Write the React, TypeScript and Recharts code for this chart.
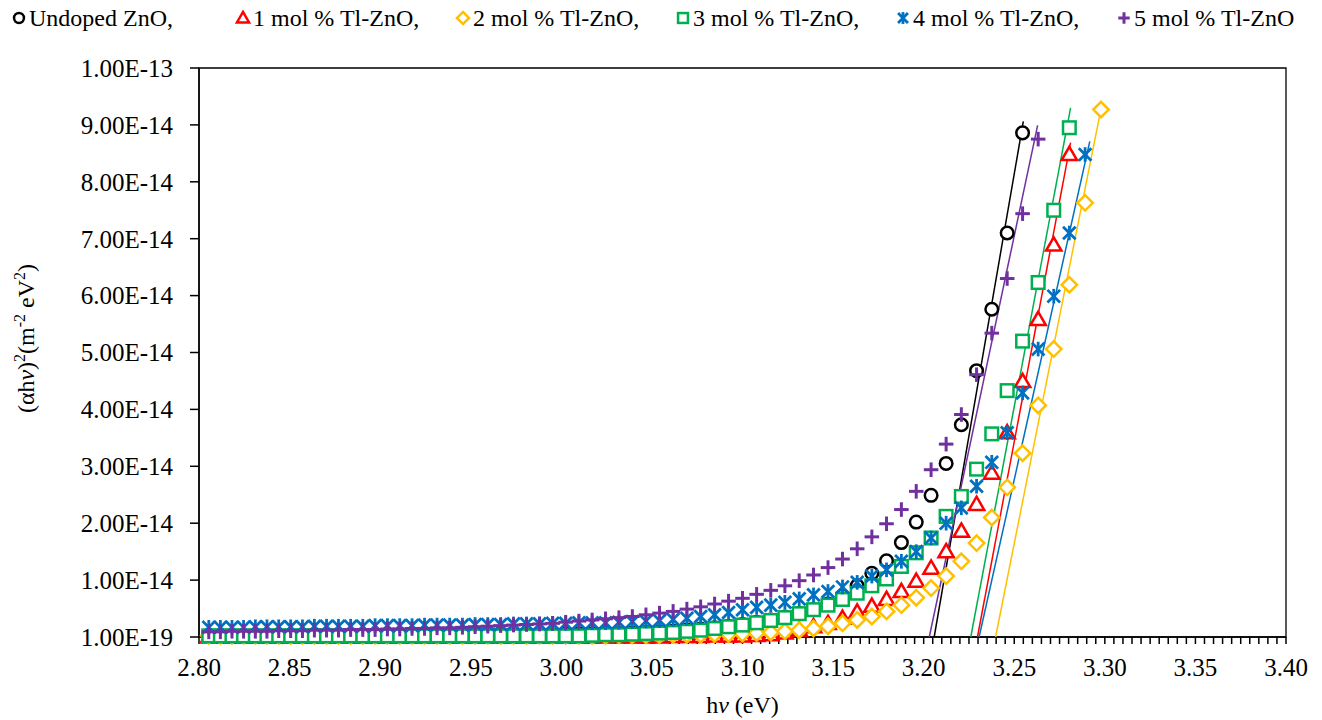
import React from "react";
import { ScatterChart, Scatter, XAxis, YAxis, ReferenceArea, Label } from "recharts";

// photon energy (eV) of every measured point, low to high
const hv = [
  2.8054, 2.8118, 2.8182, 2.8246, 2.8311, 2.8375, 2.844, 2.8506, 2.8571, 2.8637,
  2.8704, 2.877, 2.8837, 2.8904, 2.8972, 2.904, 2.9108, 2.9176, 2.9245, 2.9314,
  2.9384, 2.9454, 2.9524, 2.9594, 2.9665, 2.9736, 2.9808, 2.988, 2.9952, 3.0024,
  3.0097, 3.017, 3.0244, 3.0318, 3.0392, 3.0467, 3.0542, 3.0617, 3.0693, 3.0769,
  3.0846, 3.0923, 3.1, 3.1078, 3.1156, 3.1234, 3.1313, 3.1392, 3.1472, 3.1552,
  3.1633, 3.1714, 3.1795, 3.1877, 3.1959, 3.2041, 3.2124, 3.2208, 3.2292, 3.2376,
  3.2461, 3.2546, 3.2632, 3.2718, 3.2804, 3.2891, 3.2979,
];

// (αhν)² in units of 1e-14
const undoped = [
  0.03, 0.03, 0.03, 0.03, 0.03, 0.03, 0.03, 0.03, 0.03, 0.03,
  0.03, 0.03, 0.03, 0.03, 0.03, 0.03, 0.03, 0.03, 0.03, 0.03,
  0.04, 0.04, 0.04, 0.04, 0.04, 0.04, 0.04, 0.04, 0.04, 0.05,
  0.05, 0.05, 0.06, 0.06, 0.07, 0.08, 0.09, 0.1, 0.12, 0.14,
  0.16, 0.19, 0.22, 0.26, 0.3, 0.35, 0.41, 0.48, 0.58, 0.72,
  0.9, 1.12, 1.34, 1.66, 2.02, 2.49, 3.05, 3.73, 4.68, 5.76,
  7.1, 8.86,
];
const tl1 = [
  0, 0, 0, 0, 0, 0, 0, 0, 0, 0,
  0, 0, 0, 0, 0, 0, 0, 0, 0, 0,
  0, 0, 0, 0, 0, 0, 0, 0, 0, 0,
  0, 0, 0, 0, 0, 0, 0, 0.01, 0.01, 0.01,
  0.02, 0.02, 0.02, 0.03, 0.04, 0.07, 0.12, 0.18, 0.24, 0.33,
  0.44, 0.54, 0.66, 0.8, 0.98, 1.21, 1.5, 1.86, 2.33, 2.88,
  3.59, 4.49, 5.58, 6.89, 8.48,
];
const tl2 = [
  0.02, 0.02, 0.02, 0.02, 0.02, 0.02, 0.02, 0.02, 0.02, 0.02,
  0.02, 0.02, 0.02, 0.02, 0.02, 0.02, 0.02, 0.02, 0.02, 0.02,
  0.02, 0.02, 0.02, 0.02, 0.02, 0.02, 0.02, 0.02, 0.02, 0.02,
  0.02, 0.02, 0.02, 0.03, 0.03, 0.03, 0.03, 0.04, 0.04, 0.04,
  0.05, 0.05, 0.06, 0.07, 0.08, 0.1, 0.12, 0.15, 0.19, 0.24,
  0.3, 0.36, 0.45, 0.56, 0.69, 0.86, 1.07, 1.33, 1.65, 2.1,
  2.63, 3.23, 4.07, 5.06, 6.19, 7.63, 9.27,
];
const tl3 = [
  0.02, 0.02, 0.02, 0.02, 0.02, 0.02, 0.02, 0.02, 0.02, 0.02,
  0.02, 0.02, 0.02, 0.02, 0.02, 0.02, 0.02, 0.02, 0.02, 0.02,
  0.02, 0.02, 0.02, 0.02, 0.02, 0.02, 0.02, 0.02, 0.02, 0.02,
  0.02, 0.03, 0.04, 0.04, 0.05, 0.06, 0.07, 0.08, 0.1, 0.12,
  0.15, 0.18, 0.21, 0.25, 0.29, 0.34, 0.41, 0.48, 0.56, 0.66,
  0.77, 0.9, 1.02, 1.24, 1.48, 1.74, 2.12, 2.47, 2.95, 3.57,
  4.33, 5.2, 6.23, 7.5, 8.95,
];
const tl4 = [
  0.17, 0.17, 0.17, 0.17, 0.18, 0.18, 0.18, 0.18, 0.18, 0.19,
  0.19, 0.19, 0.19, 0.19, 0.2, 0.2, 0.2, 0.2, 0.21, 0.21,
  0.21, 0.21, 0.22, 0.22, 0.22, 0.23, 0.23, 0.23, 0.24, 0.24,
  0.25, 0.25, 0.25, 0.26, 0.27, 0.28, 0.29, 0.31, 0.33, 0.36,
  0.39, 0.43, 0.48, 0.52, 0.56, 0.61, 0.67, 0.74, 0.8, 0.88,
  0.96, 1.07, 1.18, 1.33, 1.5, 1.74, 2.0, 2.27, 2.65, 3.07,
  3.59, 4.29, 5.06, 5.99, 7.1, 8.48,
];
const tl5 = [
  0.09, 0.09, 0.1, 0.1, 0.1, 0.1, 0.11, 0.11, 0.11, 0.12,
  0.12, 0.12, 0.13, 0.13, 0.13, 0.14, 0.14, 0.15, 0.15, 0.16,
  0.16, 0.17, 0.18, 0.19, 0.2, 0.21, 0.22, 0.23, 0.24, 0.26,
  0.28, 0.3, 0.32, 0.34, 0.36, 0.39, 0.42, 0.45, 0.49, 0.53,
  0.58, 0.63, 0.68, 0.75, 0.82, 0.9, 0.99, 1.09, 1.22, 1.37,
  1.55, 1.76, 1.99, 2.24, 2.56, 2.94, 3.39, 3.91, 4.61, 5.34,
  6.3, 7.44, 8.75,
];

// linear fits (Tauc extrapolation): [x0, y0, x1, y1]
const fitUndoped = [3.2058, 0, 3.255, 9.06];
const fitTl1 = [3.2297, 0, 3.2811, 8.69];
const fitTl2 = [3.2397, 0, 3.2978, 9.27];
const fitTl3 = [3.226, 0, 3.2811, 9.3];
const fitTl4 = [3.2306, 0, 3.2917, 8.71];
const fitTl5 = [3.2031, 0, 3.2629, 8.99];

const legendNames = [
  "Undoped ZnO,",
  "1 mol % Tl-ZnO,",
  "2 mol % Tl-ZnO,",
  "3 mol % Tl-ZnO,",
  "4 mol % Tl-ZnO,",
  "5 mol % Tl-ZnO",
];

const xMajor = [2.8, 2.85, 2.9, 2.95, 3.0, 3.05, 3.1, 3.15, 3.2, 3.25, 3.3, 3.35, 3.4];
const yTicks = [0, 1, 2, 3, 4, 5, 6, 7, 8, 9, 10];

const FONT = "Liberation Serif, DejaVu Serif, serif";

const toPoints = (vals: number[]) => vals.map((y, i) => ({ x: hv[i], y }));
const toFit = (f: number[]) => [
  { x: f[0], y: f[1] },
  { x: f[2], y: f[3] },
];

// minor ticks every 0.005 eV between the majors
const xTicks: number[] = [];
for (let i = 0; i < xMajor.length - 1; i++) {
  for (let k = 0; k < 10; k++) xTicks.push(+(xMajor[i] + k * 0.005).toFixed(3));
}
xTicks.push(xMajor[xMajor.length - 1]);

const fmtX = (v: number) => (xMajor.some((m) => Math.abs(m - v) < 1e-6) ? v.toFixed(2) : "");
const fmtY = (v: number) => {
  if (v === 0) return "1.00E-19";
  if (v === 10) return "1.00E-13";
  return v.toFixed(2) + "E-14";
};

type MP = { cx?: number; cy?: number };
type Mark = (cx: number, cy: number, s: number) => React.ReactElement;

const circleMark: Mark = (cx, cy, s) => (
  <circle cx={cx} cy={cy} r={s * 0.45} fill="#fff" stroke="#000" strokeWidth={2.5} />
);
const triMark: Mark = (cx, cy, s) => (
  <polygon
    points={`${cx},${cy - s * 0.55} ${cx + s * 0.55},${cy + s * 0.4} ${cx - s * 0.55},${cy + s * 0.4}`}
    fill="#fff"
    stroke="#ff0000"
    strokeWidth={2.5}
  />
);
const diaMark: Mark = (cx, cy, s) => (
  <polygon
    points={`${cx},${cy - s * 0.55} ${cx + s * 0.55},${cy} ${cx},${cy + s * 0.55} ${cx - s * 0.55},${cy}`}
    fill="#fff"
    stroke="#ffc000"
    strokeWidth={2.5}
  />
);
const sqMark: Mark = (cx, cy, s) => (
  <rect x={cx - s * 0.45} y={cy - s * 0.45} width={s * 0.9} height={s * 0.9} fill="#fff" stroke="#00b050" strokeWidth={2.5} />
);
const starMark: Mark = (cx, cy, s) => {
  const d = s * 0.45;
  return (
    <g stroke="#0070c0" strokeWidth={2.8}>
      <line x1={cx - d} y1={cy - d} x2={cx + d} y2={cy + d} />
      <line x1={cx - d} y1={cy + d} x2={cx + d} y2={cy - d} />
      <line x1={cx} y1={cy - d - 1} x2={cx} y2={cy + d + 1} />
    </g>
  );
};
const plusMark: Mark = (cx, cy, s) => {
  const d = s * 0.52;
  return (
    <g stroke="#7030a0" strokeWidth={3}>
      <line x1={cx - d} y1={cy} x2={cx + d} y2={cy} />
      <line x1={cx} y1={cy - d} x2={cx} y2={cy + d} />
    </g>
  );
};

const marks = [circleMark, triMark, diaMark, sqMark, starMark, plusMark];
const colors = ["#000000", "#ff0000", "#ffc000", "#00b050", "#0070c0", "#7030a0"];
const seriesVals = [undoped, tl1, tl2, tl3, tl4, tl5];
const fits = [fitUndoped, fitTl1, fitTl2, fitTl3, fitTl4, fitTl5];
const legendX = [19, 243, 463, 683, 903, 1124];

const shapeOf = (m: Mark) => (p: MP) => m(p.cx ?? 0, p.cy ?? 0, 14);
const noShape = () => <g />;

const YTitle = (props: any) => {
  const vb = props.viewBox || {};
  const cx = 34;
  const cy = (vb.y ?? 68) + (vb.height ?? 569) / 2 - 14;
  return (
    <text
      x={cx}
      y={cy}
      transform={`rotate(-90, ${cx}, ${cy})`}
      textAnchor="middle"
      style={{ fontFamily: FONT }}
      fontSize={24}
      fill="#000"
    >
      <tspan>(αh</tspan>
      <tspan fontStyle="italic">ν</tspan>
      <tspan>)</tspan>
      <tspan dy={-9} fontSize={16}>2</tspan>
      <tspan dy={9}>(m</tspan>
      <tspan dy={-9} fontSize={16}>-2</tspan>
      <tspan dy={9}> eV</tspan>
      <tspan dy={-9} fontSize={16}>2</tspan>
      <tspan dy={9}>)</tspan>
    </text>
  );
};

const XTitle = (props: any) => {
  const vb = props.viewBox || {};
  const cx = (vb.x ?? 199) + (vb.width ?? 1087) / 2;
  return (
    <text x={cx} y={713} textAnchor="middle" style={{ fontFamily: FONT }} fontSize={24} fill="#000">
      <tspan>h</tspan>
      <tspan fontStyle="italic">ν</tspan>
      <tspan> (eV)</tspan>
    </text>
  );
};

export default function App() {
  return (
    <div
      style={{
        position: "absolute",
        left: 0,
        top: 0,
        width: 1322,
        height: 720,
        background: "#fff",
        fontFamily: FONT,
      }}
    >
      <svg width={1322} height={40} style={{ position: "absolute", left: 0, top: 0, fontFamily: FONT }}>
        {legendNames.map((name, i) => (
          <g key={name}>
            {marks[i](legendX[i], 18, 11)}
            <text x={legendX[i] + 10} y={26} style={{ fontFamily: FONT }} fontSize={24} fill="#000">
              {name}
            </text>
          </g>
        ))}
      </svg>
      <ScatterChart
        width={1322}
        height={720}
        margin={{ top: 68, right: 36, left: 0, bottom: 23 }}
        style={{ fontFamily: FONT }}
      >
        <XAxis
          type="number"
          dataKey="x"
          domain={[2.8, 3.4]}
          ticks={xTicks}
          interval={0}
          tickFormatter={fmtX}
          tickSize={7}
          tickMargin={14}
          height={60}
          axisLine={{ stroke: "#000", strokeWidth: 1.5 }}
          tickLine={{ stroke: "#000", strokeWidth: 1.5 }}
          tick={{ fill: "#000", fontSize: 25, style: { fontFamily: FONT } }}
        >
          <Label content={<XTitle />} />
        </XAxis>
        <YAxis
          type="number"
          dataKey="y"
          domain={[0, 10]}
          ticks={yTicks}
          interval={0}
          tickFormatter={fmtY}
          width={199}
          tickSize={9}
          tickMargin={17}
          axisLine={{ stroke: "#000", strokeWidth: 1.5 }}
          tickLine={{ stroke: "#000", strokeWidth: 1.5 }}
          tick={{ fill: "#000", fontSize: 25, style: { fontFamily: FONT } }}
        >
          <Label content={<YTitle />} />
        </YAxis>
        <ReferenceArea x1={2.8} x2={3.4} y1={0} y2={10} fill="none" stroke="#000" strokeWidth={1.3} />
        {fits.map((f, i) => (
          <Scatter
            key={"fit" + i}
            data={toFit(f)}
            line={{ stroke: colors[i], strokeWidth: 1.5 }}
            shape={noShape}
            isAnimationActive={false}
          />
        ))}
        {seriesVals.map((vals, i) => (
          <Scatter
            key={"s" + i}
            name={legendNames[i]}
            data={toPoints(vals)}
            shape={shapeOf(marks[i])}
            isAnimationActive={false}
          />
        ))}
      </ScatterChart>
    </div>
  );
}
